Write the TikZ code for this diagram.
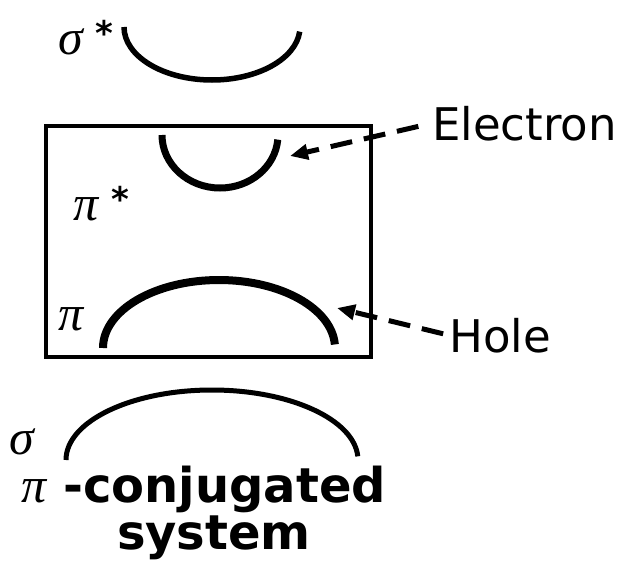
\documentclass[tikz,border=0pt]{standalone}
\usepackage{fontspec}
\newfontfamily\dv{DejaVu Sans}
\newfontfamily\gr{Liberation Serif}
\usetikzlibrary{arrows.meta}
\newcommand\gk[1]{{\gr\mdseries\itshape #1}}
\newcommand\starlbl[1]{\gk{#1}\hspace{13pt}\raisebox{9pt}{\dv\bfseries\fontsize{34}{34}\selectfont *}}
\begin{document}
\begin{tikzpicture}[x=1pt,y=-1pt,
  lbl/.style={inner sep=0pt, anchor=base west, font=\fontsize{50}{50}\selectfont},
  word/.style={inner sep=0pt, anchor=base west, font=\dv\fontsize{45}{45}\selectfont},
  bold/.style={inner sep=0pt, font=\dv\bfseries\fontsize{48}{48}\selectfont},
  ptr/.style={line width=5pt, dash pattern=on 22pt off 12pt, -{Triangle[length=18pt,width=15pt]}},
]
\useasboundingbox (0,0) rectangle (630,568);
% sigma* orbital
\draw[line width=5.5pt] (124,27) arc[start angle=180, end angle=5, x radius=88, y radius=53];
\node[lbl] (sigst) at (58,54) {\starlbl{σ}};
% box
\draw[line width=4.5pt] (46,126) rectangle (371,357);
% pi* orbital
\draw[line width=7pt] (162,135) arc[start angle=180, end angle=5, x radius=58, y radius=53];
\node[lbl] (pist) at (73,220) {\starlbl{π}};
% pi orbital
\draw[line width=8pt] (103,348) arc[start angle=180, end angle=357, x radius=116, y radius=68];
\node[lbl] (pi) at (58,330) {\gk{π}};
% sigma orbital
\draw[line width=5pt] (66,460) arc[start angle=180, end angle=357, x radius=146, y radius=70];
\node[lbl] (sig) at (9,454) {\gk{σ}};
% labels and pointers
\node[word] (electron) at (432,140) {Electron};
\node[word] (hole) at (449,352) {Hole};
\coordinate (etip) at (290,156);
\coordinate (htip) at (337,308);
\draw[ptr, shorten <=14pt] (electron.west) -- (etip);
\draw[ptr, shorten <=6pt] (hole.west) -- (htip);
% caption
\node[bold, anchor=base west] (conj) at (21,502) {\fontsize{50}{50}\selectfont\gk{π}\hspace{17pt}\dv\bfseries\fontsize{48}{48}\selectfont -conjugated};
\node[bold, anchor=base] (sys) at (214,549) {system};
\end{tikzpicture}
\end{document}
